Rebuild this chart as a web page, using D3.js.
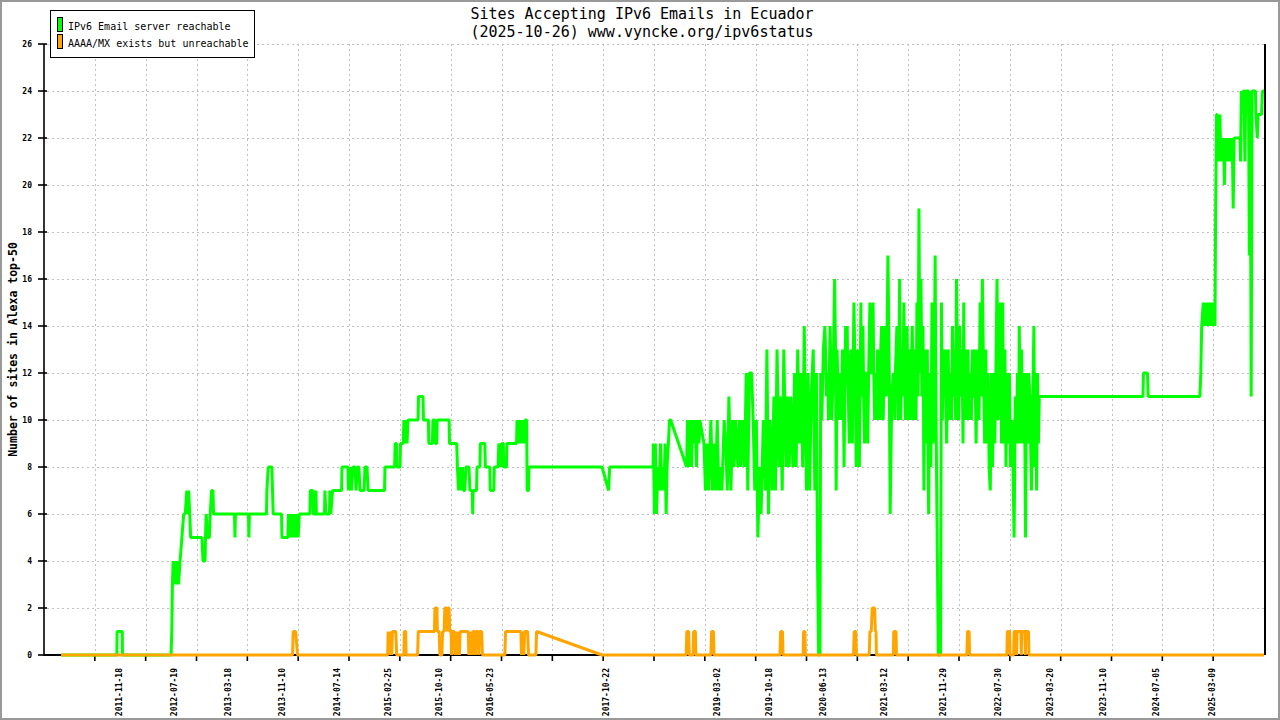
<!DOCTYPE html>
<html>
<head>
<meta charset="utf-8">
<script src="https://cdn.jsdelivr.net/npm/d3@7"></script>
<style>
  body { margin: 0; background: #fff; }
  text { font-family: "DejaVu Sans Mono", "Liberation Mono", monospace; }
</style>
</head>
<body>
<div id="chart"></div>
<script>
// ---- data ----
const titleLines = ["Sites Accepting IPv6 Emails in Ecuador", "(2025-10-26) www.vyncke.org/ipv6status"];
const yAxisTitle = "Number of sites in Alexa top-50";
const seriesNames = ["IPv6 Email server reachable", "AAAA/MX exists but unreachable"];
const seriesColors = ["#00ff00", "#ffa500"];

const yTickValues = [0, 2, 4, 6, 8, 10, 12, 14, 16, 18, 20, 22, 24, 26];
const xLabelDates = ["2011-11-18", "2012-07-19", "2013-03-18", "2013-11-10", "2014-07-14",
  "2015-02-25", "2015-10-10", "2016-05-23", "2017-10-22", "2019-03-02", "2019-10-18",
  "2020-06-13", "2021-03-12", "2021-11-29", "2022-07-30", "2023-03-20", "2023-11-10",
  "2024-07-05", "2025-03-09"];
const dateDomain = ["2010-12-20", "2025-10-26"];

// reachable, 2011 - mid 2018
const reachableEarly = [
  ["2011-03-06",0],["2011-11-09",0],["2011-11-10",1],["2011-12-03",1],["2011-12-04",0],
  ["2012-07-07",0],["2012-07-10",1],["2012-07-13",3],["2012-07-16",4],["2012-07-20",3],["2012-07-25",4],
  ["2012-07-30",3],["2012-08-04",4],["2012-08-09",3],["2012-08-16",4],["2012-08-24",5],["2012-09-01",6],
  ["2012-09-08",6],["2012-09-15",7],["2012-09-19",6],["2012-09-23",7],["2012-09-28",6],["2012-10-02",5],
  ["2012-11-21",5],["2012-11-26",4],["2012-12-05",4],["2012-12-07",5],["2012-12-10",6],["2012-12-16",5],
  ["2012-12-24",5],["2012-12-28",6],["2013-01-03",7],["2013-01-09",7],["2013-01-12",6],
  ["2013-04-15",6],["2013-04-17",5],["2013-04-19",6],["2013-06-16",6],["2013-06-18",5],["2013-06-20",6],
  ["2013-09-04",6],["2013-09-06",7],["2013-09-12",8],["2013-09-28",8],["2013-10-01",7],["2013-10-04",6],
  ["2013-11-10",6],["2013-11-12",5],["2013-12-08",5],["2013-12-11",6],["2013-12-15",5],["2013-12-19",6],
  ["2013-12-24",5],["2013-12-29",6],["2014-01-03",5],["2014-01-08",6],["2014-01-13",5],["2014-01-18",6],
  ["2014-01-23",5],["2014-01-28",6],
  ["2014-03-16",6],["2014-03-18",7],["2014-03-29",7],["2014-03-31",6],["2014-04-10",6],["2014-04-12",7],
  ["2014-04-14",6],["2014-05-20",6],["2014-05-22",7],["2014-05-26",6],["2014-06-11",6],["2014-06-13",7],
  ["2014-06-17",6],["2014-06-25",7],["2014-08-04",7],["2014-08-06",8],["2014-09-01",8],["2014-09-03",7],
  ["2014-09-10",8],["2014-09-17",7],["2014-09-23",8],["2014-10-03",8],["2014-10-07",7],["2014-10-14",8],
  ["2014-10-20",8],["2014-10-25",7],["2014-11-12",7],["2014-11-16",8],["2014-11-25",8],["2014-11-30",7],
  ["2015-02-11",7],["2015-02-13",8],["2015-03-28",8],["2015-03-30",9],["2015-04-05",9],["2015-04-07",8],
  ["2015-04-21",8],["2015-04-23",9],["2015-05-05",9],["2015-05-08",10],["2015-05-14",9],["2015-05-18",10],
  ["2015-05-22",9],["2015-05-26",10],["2015-07-10",10],["2015-07-12",11],["2015-08-01",11],["2015-08-03",10],
  ["2015-08-25",10],["2015-08-27",9],["2015-09-12",9],["2015-09-14",10],["2015-09-23",10],["2015-09-25",9],
  ["2015-10-01",9],["2015-10-03",10],["2015-11-25",10],["2015-11-27",9],["2015-12-29",9],["2016-01-01",8],
  ["2016-01-06",7],["2016-01-12",8],["2016-01-17",7],["2016-01-23",8],["2016-01-28",7],["2016-02-03",7],
  ["2016-02-08",8],["2016-02-21",8],["2016-02-26",7],["2016-03-07",7],["2016-03-09",6],["2016-03-11",7],
  ["2016-03-26",7],["2016-03-28",8],["2016-04-10",8],["2016-04-12",9],["2016-05-02",9],["2016-05-04",8],
  ["2016-05-24",8],["2016-05-26",7],["2016-06-11",7],["2016-06-13",8],["2016-06-30",8],["2016-07-03",9],
  ["2016-07-12",8],["2016-07-16",9],["2016-07-23",9],["2016-07-25",8],["2016-08-06",8],["2016-08-08",9],
  ["2016-09-20",9],["2016-09-22",10],["2016-09-28",9],["2016-10-03",10],["2016-10-10",9],["2016-10-15",10],
  ["2016-10-22",9],["2016-10-28",10],["2016-11-04",10],["2016-11-06",7],["2016-11-12",7],["2016-11-14",8],
  ["2016-12-18",8],["2017-10-05",8],["2017-11-03",7],["2017-11-08",8],["2018-05-20",8]
];

// reachable, mid 2018 - early 2023 (noisy period)
const reachableMiddle = [
  ["2018-05-21",9],["2018-05-26",6],["2018-05-30",9],["2018-06-04",6],["2018-06-11",8],["2018-06-15",7],
  ["2018-06-22",9],["2018-06-27",7],["2018-07-03",8],["2018-07-08",7],["2018-07-12",9],["2018-07-17",6],
  ["2018-07-21",8],["2018-07-27",9],["2018-08-01",10],["2018-08-06",10],["2018-10-16",8],["2018-10-20",10],
  ["2018-10-26",8],["2018-10-31",10],["2018-11-07",8],["2018-11-11",10],["2018-11-18",9],["2018-11-22",10],
  ["2018-11-29",8],["2018-12-03",10],["2018-12-10",9],["2018-12-14",10],
  ["2019-01-01",9],["2019-01-08",7],["2019-01-15",9],["2019-01-22",7],
  ["2019-02-01",10],["2019-02-08",7],["2019-02-15",9],["2019-02-22",7],
  ["2019-03-01",10],["2019-03-08",7],["2019-03-15",8],["2019-03-22",7],
  ["2019-04-01",10],["2019-04-08",9],["2019-04-15",7],["2019-04-22",11],
  ["2019-05-01",7],["2019-05-08",10],["2019-05-15",8],["2019-05-22",10],
  ["2019-06-01",8],["2019-06-08",10],["2019-06-15",8],["2019-06-22",10],
  ["2019-07-01",8],["2019-07-08",12],["2019-07-15",7],["2019-07-22",12],
  ["2019-08-01",12],["2019-08-08",10],["2019-08-15",7],["2019-08-22",10],["2019-08-29",5],
  ["2019-09-05",8],["2019-09-12",6],["2019-09-22",10],
  ["2019-10-01",7],["2019-10-08",13],["2019-10-15",6],["2019-10-22",10],
  ["2019-11-01",7],["2019-11-08",11],["2019-11-15",7],["2019-11-22",13],
  ["2019-12-01",8],["2019-12-08",11],["2019-12-15",7],["2019-12-22",13],
  ["2020-01-01",8],["2020-01-08",11],["2020-01-15",8],["2020-01-22",11],
  ["2020-02-01",8],["2020-02-08",12],["2020-02-15",8],["2020-02-22",13],
  ["2020-03-01",9],["2020-03-08",12],["2020-03-15",8],["2020-03-22",14],
  ["2020-04-01",7],["2020-04-08",12],["2020-04-15",7],["2020-04-22",11],
  ["2020-05-01",13],["2020-05-08",7],["2020-05-15",12],["2020-05-20",4],["2020-05-25",0],["2020-05-31",0],
  ["2020-06-03",12],["2020-06-08",10],["2020-06-15",13],["2020-06-22",14],["2020-06-29",11],
  ["2020-07-04",12],["2020-07-08",10],["2020-07-15",14],["2020-07-22",10],["2020-07-29",12],
  ["2020-08-04",16],["2020-08-08",13],["2020-08-11",7],["2020-08-15",13],["2020-08-22",10],["2020-08-29",12],
  ["2020-09-01",10],["2020-09-08",13],["2020-09-15",8],["2020-09-22",14],["2020-09-29",14],
  ["2020-10-01",12],["2020-10-08",9],["2020-10-15",13],["2020-10-22",9],["2020-10-29",15],
  ["2020-11-01",13],["2020-11-08",8],["2020-11-15",13],["2020-11-22",8],["2020-11-29",15],
  ["2020-12-01",11],["2020-12-08",14],["2020-12-15",9],["2020-12-22",12],["2020-12-29",9],
  ["2021-01-01",11],["2021-01-08",15],["2021-01-15",12],["2021-01-22",15],["2021-01-29",10],
  ["2021-02-01",12],["2021-02-08",10],["2021-02-15",12],["2021-02-22",10],
  ["2021-03-01",14],["2021-03-08",10],["2021-03-15",14],["2021-03-22",11],["2021-03-29",17],
  ["2021-04-04",12],["2021-04-08",6],["2021-04-15",11],["2021-04-22",12],["2021-04-29",10],
  ["2021-05-01",12],["2021-05-08",14],["2021-05-15",10],["2021-05-20",16],["2021-05-25",10],["2021-05-29",13],
  ["2021-06-01",11],["2021-06-08",15],["2021-06-15",10],["2021-06-22",14],["2021-06-29",10],
  ["2021-07-01",13],["2021-07-08",10],["2021-07-15",14],["2021-07-22",10],["2021-07-29",13],
  ["2021-08-01",10],["2021-08-05",15],["2021-08-10",11],["2021-08-14",19],["2021-08-18",12],["2021-08-23",16],
  ["2021-08-27",11],["2021-09-01",14],["2021-09-05",7],["2021-09-10",13],["2021-09-15",9],["2021-09-20",13],
  ["2021-09-26",6],["2021-10-01",12],["2021-10-06",8],["2021-10-11",15],["2021-10-16",9],["2021-10-21",12],
  ["2021-10-25",17],["2021-10-29",10],["2021-11-03",5],["2021-11-08",0],["2021-11-18",0],["2021-11-22",15],
  ["2021-11-26",10],["2021-11-30",13],["2021-12-04",11],["2021-12-08",13],["2021-12-15",9],["2021-12-22",13],
  ["2021-12-29",10],
  ["2022-01-01",12],["2022-01-06",10],["2022-01-10",14],["2022-01-15",11],["2022-01-20",13],["2022-01-24",10],
  ["2022-01-28",16],["2022-02-01",13],["2022-02-06",10],["2022-02-11",14],["2022-02-16",11],["2022-02-21",13],
  ["2022-02-26",9],["2022-03-01",15],["2022-03-05",10],["2022-03-10",13],["2022-03-15",10],["2022-03-20",13],
  ["2022-03-25",10],["2022-03-30",12],["2022-04-04",10],["2022-04-09",13],["2022-04-14",11],["2022-04-19",13],
  ["2022-04-25",9],["2022-04-29",12],["2022-05-03",13],["2022-05-08",10],["2022-05-13",15],["2022-05-18",11],
  ["2022-05-23",16],["2022-05-28",12],["2022-06-02",9],["2022-06-07",13],["2022-06-12",9],["2022-06-17",12],
  ["2022-06-22",8],["2022-06-27",7],["2022-07-02",12],["2022-07-07",8],["2022-07-12",12],["2022-07-17",9],
  ["2022-07-22",12],["2022-07-27",16],["2022-08-01",10],["2022-08-06",13],["2022-08-11",15],["2022-08-16",9],
  ["2022-08-21",15],["2022-08-26",9],["2022-08-31",13],["2022-09-05",8],["2022-09-10",12],["2022-09-15",9],
  ["2022-09-20",12],["2022-09-25",8],["2022-10-01",10],["2022-10-06",8],["2022-10-11",5],["2022-10-16",11],
  ["2022-10-21",9],["2022-10-26",12],["2022-10-31",9],["2022-11-03",14],["2022-11-08",9],["2022-11-13",13],
  ["2022-11-18",9],["2022-11-23",12],["2022-11-28",9],["2022-12-01",5],["2022-12-05",12],["2022-12-10",9],
  ["2022-12-15",12],["2022-12-20",11],["2022-12-27",7],
  ["2023-01-07",14],["2023-01-11",8],["2023-01-15",12],["2023-01-19",7],["2023-01-23",12],["2023-01-27",9],
  ["2023-01-31",11]
];

// extra readings inside the densest part of the band
const reachableDense = [
  ["2020-09-04",11],["2020-09-11",12],["2020-09-18",11],["2020-09-25",12],
  ["2020-10-04",11],["2020-10-11",12],["2020-10-18",11],["2020-10-25",12],
  ["2020-11-04",12],["2020-11-11",11],["2020-11-18",12],["2020-11-25",11],
  ["2020-12-04",12],["2020-12-11",11],["2020-12-18",12],["2020-12-25",11],
  ["2021-01-04",13],["2021-01-11",12],["2021-01-18",13],["2021-01-25",12],
  ["2021-02-04",11],["2021-02-11",13],["2021-02-18",11],["2021-02-25",13],
  ["2021-06-04",12],["2021-06-11",12],["2021-06-18",12],["2021-06-25",12],
  ["2021-07-04",12],["2021-07-11",12],["2021-07-18",12],["2021-07-25",11],
  ["2021-12-01",12],["2021-12-11",11],["2021-12-18",12],["2021-12-25",11],
  ["2022-03-03",12],["2022-03-12",11],["2022-03-17",12],["2022-03-22",11],
  ["2022-04-06",12],["2022-04-11",11],["2022-04-16",12],["2022-04-22",11]
];

// reachable, 2024 - 2025
const reachableLate = [
  ["2024-05-06",11],["2024-05-08",12],["2024-05-26",12],["2024-05-29",11],
  ["2025-01-14",11],["2025-01-18",12],["2025-01-22",14],["2025-01-29",15],["2025-02-02",14],["2025-02-07",15],
  ["2025-02-11",14],["2025-02-16",15],["2025-02-21",14],["2025-02-26",15],["2025-03-03",14],["2025-03-08",15],
  ["2025-03-13",14],["2025-03-18",15],["2025-03-22",14],["2025-03-25",19],["2025-03-29",23],["2025-04-01",23],
  ["2025-04-04",21],["2025-04-07",23],["2025-04-10",21],["2025-04-13",23],["2025-04-17",21],["2025-04-21",22],
  ["2025-04-25",21],["2025-04-29",22],["2025-05-03",20],["2025-05-06",22],["2025-05-10",21],["2025-05-14",22],
  ["2025-05-18",21],["2025-05-22",22],["2025-05-26",21],["2025-05-30",22],["2025-06-03",21],["2025-06-07",22],
  ["2025-06-11",19],["2025-06-15",22],["2025-07-11",22],["2025-07-14",21],["2025-07-17",24],["2025-07-21",23],
  ["2025-07-25",24],["2025-07-29",24],["2025-08-02",21],["2025-08-06",24],["2025-08-18",24],["2025-08-22",17],
  ["2025-08-26",24],["2025-08-30",11],["2025-09-03",24],["2025-09-18",24],["2025-09-20",23],["2025-09-26",22],
  ["2025-09-30",23],["2025-10-15",23],["2025-10-19",24],["2025-10-26",24]
];

// AAAA/MX exists but unreachable
const unreachable = [
  ["2011-03-06",0],["2013-12-29",0],["2014-01-01",1],["2014-01-12",1],["2014-01-20",0],
  ["2015-02-25",0],["2015-02-27",1],["2015-03-02",0],["2015-03-05",1],["2015-03-08",0],["2015-03-11",1],
  ["2015-03-15",0],["2015-03-18",1],["2015-04-02",1],["2015-04-06",0],
  ["2015-05-08",0],["2015-05-10",1],["2015-05-16",1],["2015-05-18",0],
  ["2015-07-08",0],["2015-07-11",1],["2015-09-21",1],["2015-09-23",2],["2015-10-02",2],["2015-10-04",1],
  ["2015-10-12",1],["2015-10-15",0],["2015-10-24",0],["2015-10-27",1],["2015-11-03",1],["2015-11-06",2],
  ["2015-11-14",2],["2015-11-17",1],["2015-11-20",2],["2015-11-25",2],["2015-11-28",1],["2015-12-04",1],
  ["2015-12-06",0],["2015-12-09",1],["2015-12-18",1],["2015-12-21",0],["2015-12-24",1],["2015-12-28",0],
  ["2015-12-31",1],["2016-01-04",0],["2016-01-07",1],["2016-01-10",0],["2016-01-13",1],["2016-02-18",1],
  ["2016-02-21",0],["2016-02-24",1],["2016-02-28",0],["2016-03-03",1],["2016-03-07",0],["2016-03-10",1],
  ["2016-03-18",1],["2016-03-21",0],["2016-03-24",1],["2016-04-02",1],["2016-04-05",0],["2016-04-08",1],
  ["2016-04-18",1],["2016-04-21",0],
  ["2016-07-30",0],["2016-08-02",1],["2016-10-09",1],["2016-10-12",0],["2016-10-15",1],["2016-10-22",0],
  ["2016-10-26",1],["2016-11-08",1],["2016-11-12",0],["2016-12-15",0],["2016-12-18",1],["2017-10-05",0],
  ["2018-10-14",0],["2018-10-17",1],["2018-10-25",1],["2018-10-28",0],
  ["2018-11-14",0],["2018-11-16",1],["2018-11-24",1],["2018-11-26",0],
  ["2019-02-01",0],["2019-02-04",1],["2019-02-12",1],["2019-02-15",0],
  ["2019-12-05",0],["2019-12-08",1],["2019-12-16",1],["2019-12-19",0],
  ["2020-03-17",0],["2020-03-19",1],["2020-03-25",1],["2020-03-27",0],
  ["2020-10-27",0],["2020-10-30",1],["2020-11-06",1],["2020-11-09",0],
  ["2021-01-05",0],["2021-01-08",1],["2021-01-14",1],["2021-01-18",2],["2021-01-29",2],["2021-02-01",1],
  ["2021-02-04",1],["2021-02-06",0],
  ["2021-04-22",0],["2021-04-24",1],["2021-05-04",1],["2021-05-06",0],
  ["2022-03-15",0],["2022-03-18",1],["2022-03-25",1],["2022-03-27",0],
  ["2022-09-09",0],["2022-09-11",1],["2022-09-21",1],["2022-09-23",0],
  ["2022-10-09",0],["2022-10-11",1],["2022-10-20",1],["2022-10-22",0],["2022-10-24",1],["2022-11-10",1],
  ["2022-11-12",0],["2022-11-14",1],["2022-11-28",1],["2022-11-30",0],["2022-12-02",1],["2022-12-14",1],
  ["2022-12-16",0],
  ["2025-10-26",0]
];

// ---- drawing ----
const width = 1280, height = 720;
const margin = {top: 44, right: 16, bottom: 65, left: 44};
const parse = d3.utcParse("%Y-%m-%d");

const toPoints = rows => rows
    .map(r => ({date: parse(r[0]), value: r[1]}))
    .sort((a, b) => a.date - b.date);
const reachable = toPoints(reachableEarly.concat(reachableMiddle, reachableDense, reachableLate));
const unreach = toPoints(unreachable);

const svg = d3.select("#chart").append("svg")
    .attr("width", width)
    .attr("height", height);

svg.append("rect")
    .attr("x", 1).attr("y", 1)
    .attr("width", width - 2).attr("height", height - 2)
    .attr("fill", "#fff")
    .attr("stroke", "#999").attr("stroke-width", 2);

const x = d3.scaleUtc()
    .domain(dateDomain.map(parse))
    .range([margin.left, width - margin.right]);

const y = d3.scaleLinear()
    .domain([0, 26])
    .range([height - margin.bottom, margin.top]);

// tick marks: the axis is cut into 24 equal steps
const [t0, t1] = x.domain();
const tickDates = d3.range(1, 24).map(i => new Date(+t0 + i * (t1 - t0) / 24));

// grid
const grid = svg.append("g")
    .attr("stroke", "#c0c0c0")
    .attr("stroke-width", 1)
    .attr("stroke-dasharray", "2,3");

grid.selectAll(".hgrid")
    .data(yTickValues.filter(v => v > 0))
    .enter().append("line")
    .attr("x1", margin.left + 3).attr("x2", width - margin.right)
    .attr("y1", d => Math.round(y(d)) + 0.5)
    .attr("y2", d => Math.round(y(d)) + 0.5);

grid.selectAll(".vgrid")
    .data(tickDates)
    .enter().append("line")
    .attr("x1", d => Math.round(x(d)) + 0.5)
    .attr("x2", d => Math.round(x(d)) + 0.5)
    .attr("y1", y(26)).attr("y2", y(0));

// axes
const axes = svg.append("g").attr("stroke", "#000");

axes.append("line")
    .attr("x1", margin.left).attr("x2", margin.left)
    .attr("y1", y(26)).attr("y2", y(0) + 1)
    .attr("stroke-width", 1.6);

axes.append("line")
    .attr("x1", margin.left).attr("x2", width - margin.right)
    .attr("y1", y(0)).attr("y2", y(0))
    .attr("stroke-width", 2);

axes.append("line")
    .attr("x1", width - margin.right + 1).attr("x2", width - margin.right + 1)
    .attr("y1", y(26)).attr("y2", y(0))
    .attr("stroke-width", 2);

axes.selectAll(".ytick")
    .data(yTickValues)
    .enter().append("line")
    .attr("x1", margin.left - 6).attr("x2", margin.left + 3)
    .attr("y1", d => y(d)).attr("y2", d => y(d))
    .attr("stroke-width", 1.6);

axes.selectAll(".xtick")
    .data(tickDates)
    .enter().append("line")
    .attr("x1", d => x(d)).attr("x2", d => x(d))
    .attr("y1", y(0)).attr("y2", y(0) + 6)
    .attr("stroke-width", 1.6);

svg.selectAll(".ylabel")
    .data(yTickValues)
    .enter().append("text")
    .attr("x", margin.left - 12)
    .attr("y", d => y(d) + 3)
    .attr("text-anchor", "end")
    .attr("font-size", 8)
    .attr("font-weight", "bold")
    .text(d => d);

svg.selectAll(".xlabel")
    .data(xLabelDates)
    .enter().append("text")
    .attr("transform", d => `translate(${x(parse(d)) + 3},${y(0) + 13}) rotate(-90)`)
    .attr("text-anchor", "end")
    .attr("font-size", 8)
    .attr("font-weight", "bold")
    .text(d => d);

svg.append("text")
    .attr("transform", `translate(17,${(y(0) + y(26)) / 2}) rotate(-90)`)
    .attr("text-anchor", "middle")
    .attr("font-size", 11.5)
    .attr("font-weight", "bold")
    .text(yAxisTitle);

// series
const line = d3.line()
    .x(d => x(d.date))
    .y(d => y(d.value));

svg.append("path")
    .datum(reachable)
    .attr("fill", "none")
    .attr("stroke", seriesColors[0])
    .attr("stroke-width", 3)
    .attr("stroke-linejoin", "bevel")
    .attr("d", line);

svg.append("path")
    .datum(unreach)
    .attr("fill", "none")
    .attr("stroke", seriesColors[1])
    .attr("stroke-width", 3)
    .attr("stroke-linejoin", "bevel")
    .attr("d", line);

// title
svg.selectAll(".title")
    .data(titleLines)
    .enter().append("text")
    .attr("x", 642)
    .attr("y", (d, i) => 19 + i * 18)
    .attr("text-anchor", "middle")
    .attr("font-size", 15)
    .text(d => d);

// legend
const legend = svg.append("g");
legend.append("rect")
    .attr("x", 50.5).attr("y", 10.5)
    .attr("width", 204).attr("height", 47)
    .attr("fill", "#fff")
    .attr("stroke", "#000");

const items = legend.selectAll(".item")
    .data(seriesNames)
    .enter().append("g")
    .attr("transform", (d, i) => `translate(0,${i * 17})`);

items.append("rect")
    .attr("x", 57.5).attr("y", 17.5)
    .attr("width", 5).attr("height", 14)
    .attr("fill", (d, i) => seriesColors[i])
    .attr("stroke", "#000");

items.append("text")
    .attr("x", 68).attr("y", 29.5)
    .attr("font-size", 10)
    .text(d => d);
</script>
</body>
</html>
